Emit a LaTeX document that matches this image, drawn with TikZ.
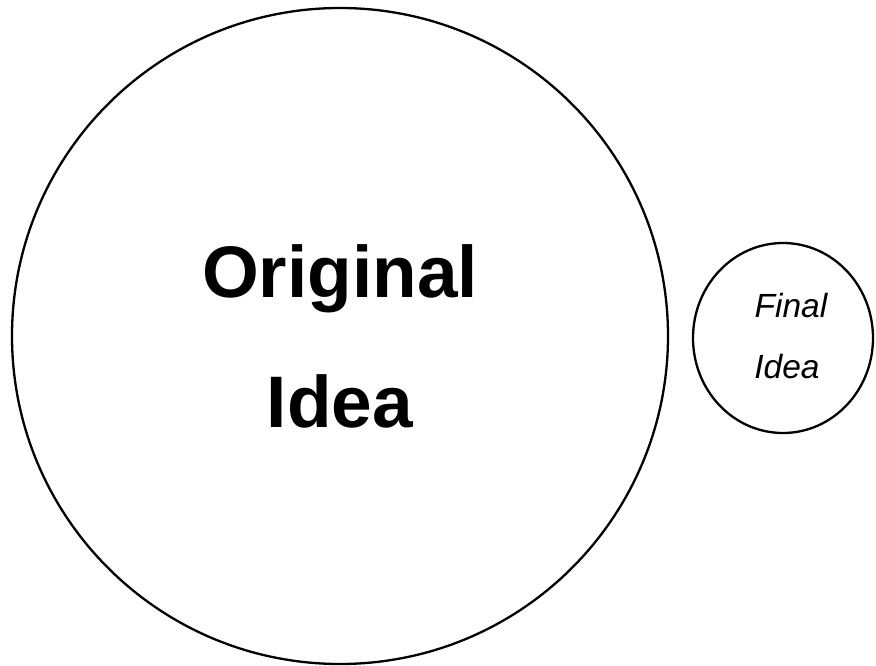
\documentclass[tikz,border=0pt]{standalone}
\usepackage{fontspec}
\setmainfont{Liberation Sans}
\usetikzlibrary{shapes.geometric}
\begin{document}
\begin{tikzpicture}[x=1pt,y=-1pt,
  ring/.style={draw=black,line width=2.3pt,inner sep=0pt},
  bigtext/.style={font=\fontsize{73}{80}\selectfont\bfseries,anchor=base,inner sep=0pt},
  smalltext/.style={font=\fontsize{33.5}{40}\selectfont\itshape,anchor=base,inner sep=0pt}]
\useasboundingbox (0,0) rectangle (876,666);
\node[ring,circle,minimum size=656pt] (big) at (340,336) {};
\node[ring,ellipse,minimum width=180pt,minimum height=190pt] (small) at (783,338) {};
\node[bigtext] (orig) at (340,297) {Original};
\node[bigtext] (idea) at (340,427) {Idea};
\node[smalltext] (final) at (791,317) {Final};
\node[smalltext] (idea2) at (787,378) {Idea};
\end{tikzpicture}
\end{document}
